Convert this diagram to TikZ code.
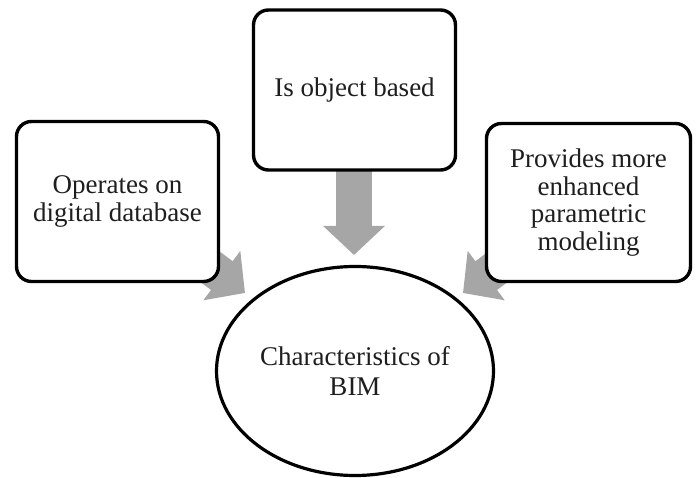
\documentclass[tikz,border=0pt]{standalone}
\usepackage{fontspec}
\setmainfont{Liberation Serif}
\usetikzlibrary{arrows.meta,shapes.geometric}
\definecolor{arrowgray}{RGB}{166,166,166}
\definecolor{textgray}{RGB}{30,30,30}
\begin{document}
\begin{tikzpicture}[x=1pt,y=-1pt,
  boxnode/.style={draw=black,line width=3.4pt,rounded corners=15pt,fill=white,
    minimum width=202pt,minimum height=160pt,inner sep=0pt,align=center,
    text=textgray,font=\fontsize{27}{27.5}\selectfont},
  ellnode/.style={draw=black,line width=3.2pt,ellipse,fill=white,
    minimum width=277pt,minimum height=209pt,inner sep=0pt,align=center,
    text=textgray,font=\fontsize{27}{30}\selectfont},
  blockarrow/.style={draw=arrowgray,line width=36pt,
    -{Triangle[width=60pt,length=29pt,fill=arrowgray]}}]
\useasboundingbox (0,0) rectangle (697,478);
% arrow tips and hidden tails
\coordinate (tipL) at (245,293);
\coordinate (tailL) at (189,251);
\coordinate (tipR) at (463,293);
\coordinate (tailR) at (519,251);
\coordinate (tipT) at (354,255);
\coordinate (tailT) at (354,160);
% arrows first (behind boxes)
\draw[blockarrow] (tailL) -- (tipL);
\draw[blockarrow] (tailR) -- (tipR);
\draw[blockarrow] (tailT) -- (tipT);
% nodes
\node[boxnode] (left) at (117.5,201.5) {Operates on\\digital database};
\node[boxnode] (top) at (354.5,90) {Is object based};
\node[boxnode,minimum width=204pt,minimum height=158pt] (right) at (588.5,202.5) {Provides more\\enhanced\\parametric\\modeling};
\node[ellnode] (bim) at (355,371) {Characteristics of\\BIM};
\end{tikzpicture}
\end{document}
